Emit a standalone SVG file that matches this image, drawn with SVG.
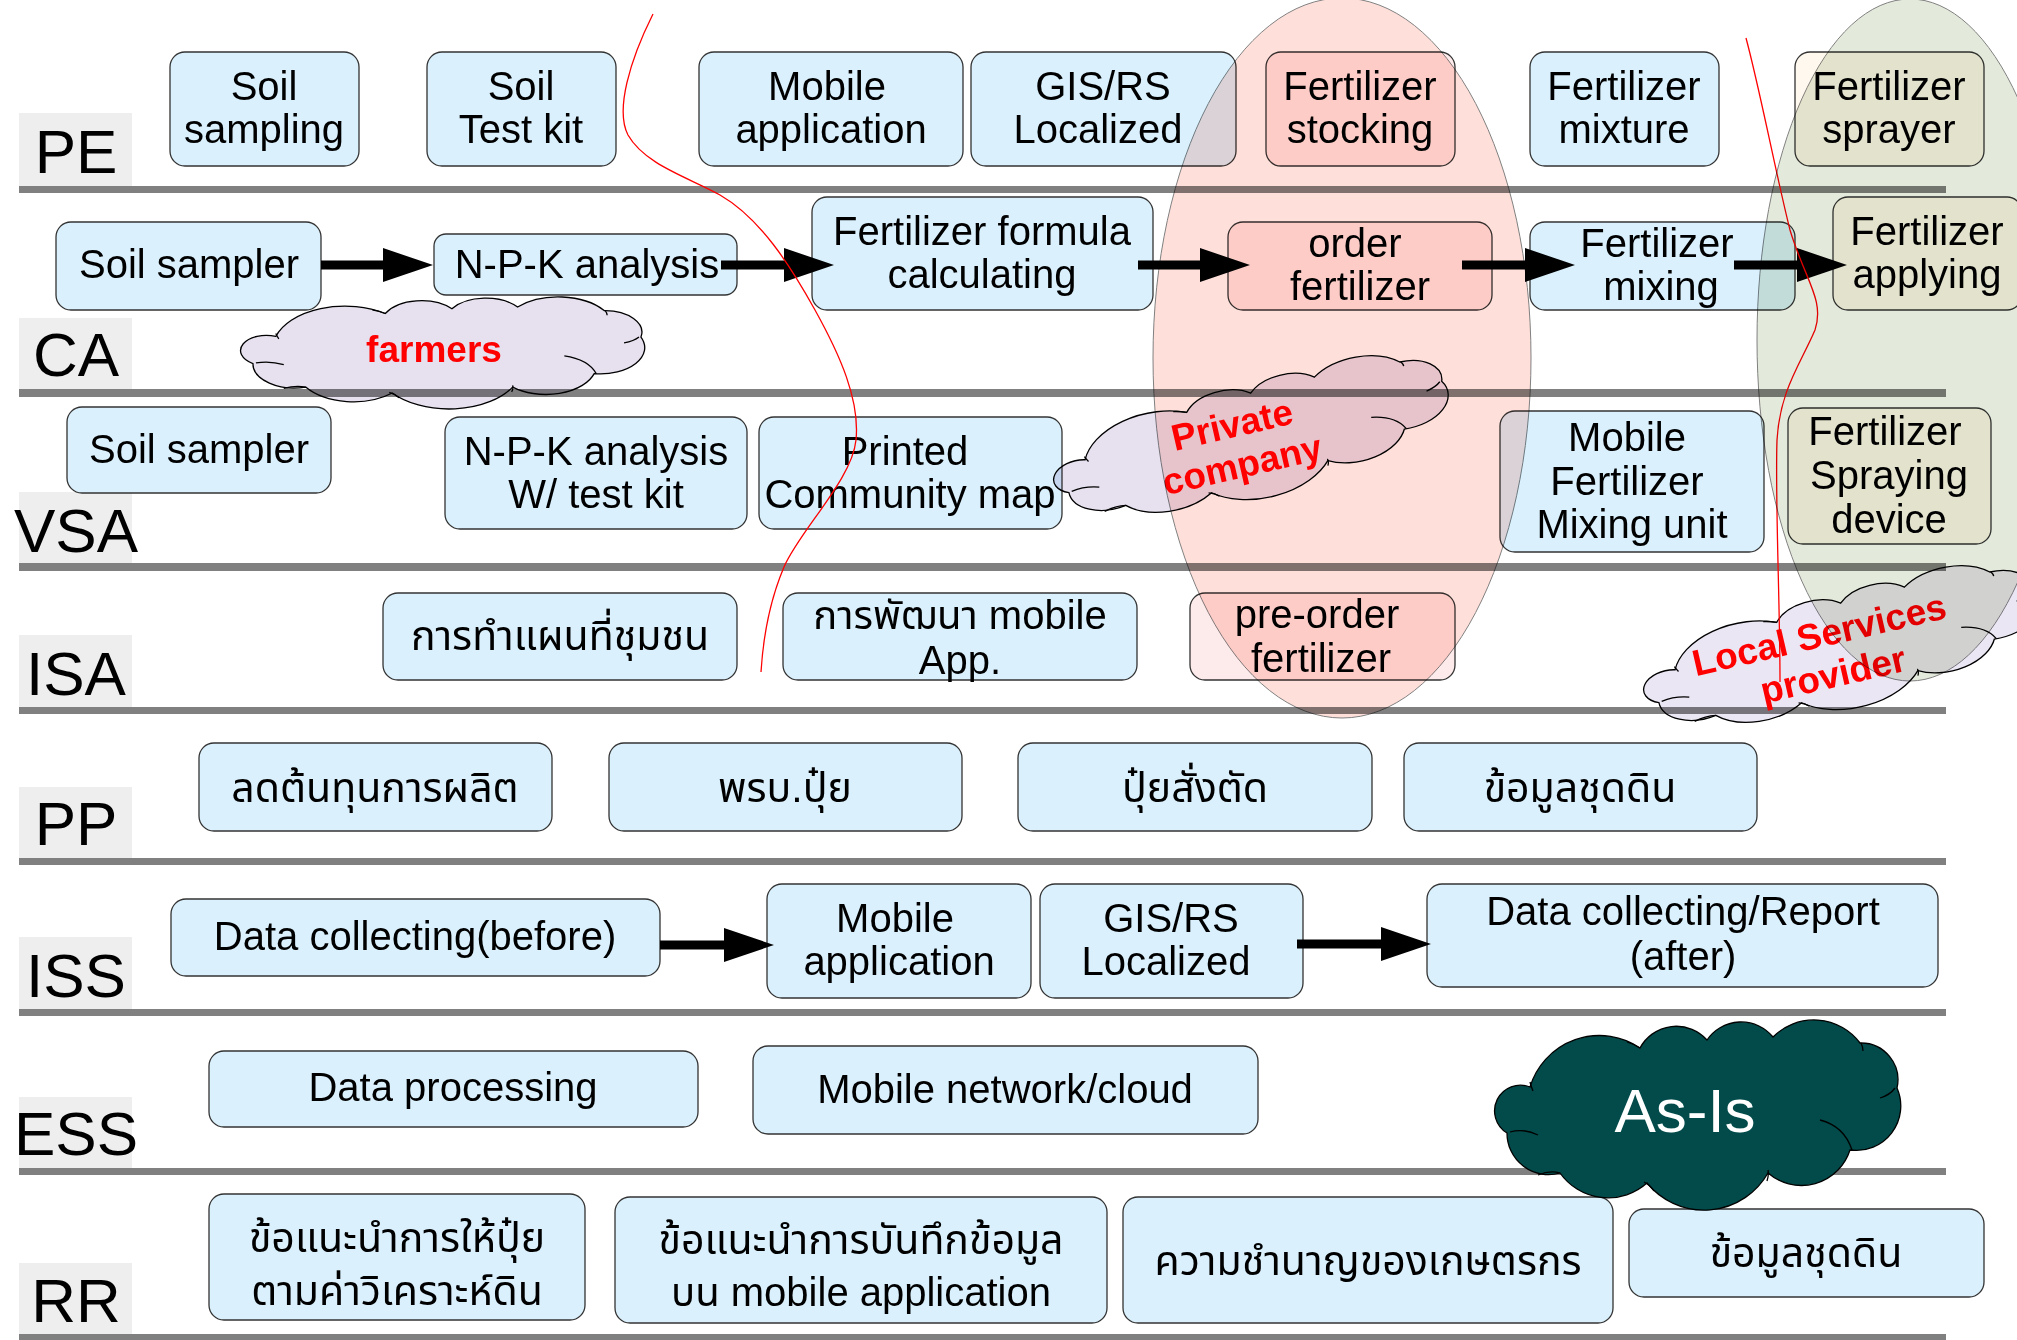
<svg xmlns="http://www.w3.org/2000/svg" xmlns:xlink="http://www.w3.org/1999/xlink" width="2017" height="1340" viewBox="0 0 2017 1340">
<style>
.lane{fill:#eeeeee}
.lanetxt{font-family:"Liberation Sans",Arial,sans-serif;font-size:62px;fill:#000;text-anchor:middle}
.sep{fill:#808080}
.box{fill:#daf1fd;stroke:#333;stroke-width:1.3}
.pink{fill:#fdeaea}
.cream{fill:#fff8ef}
.t{font-family:"Liberation Sans","Noto Sans Thai","DejaVu Sans",sans-serif;font-size:40px;fill:#000;text-anchor:middle}
.th{font-size:41px}
.conn{stroke:#000;stroke-width:9;fill:none;marker-end:url(#ah)}
.ctxt{font-family:"Liberation Sans",Arial,sans-serif;font-weight:bold;font-size:37px;fill:#ff0000;text-anchor:middle}
.oval{mix-blend-mode:multiply;stroke:#808080;stroke-width:1}
.blend{mix-blend-mode:multiply}
.red{fill:none;stroke:#ff0000;stroke-width:1.3}
.cl-out{stroke:#000;stroke-width:1.3;vector-effect:non-scaling-stroke}
.cl-in{fill:none;stroke:#000;stroke-width:1.3;vector-effect:non-scaling-stroke}
</style>
<defs>
<marker id="ah" markerUnits="userSpaceOnUse" markerWidth="50" markerHeight="34" refX="0" refY="17" orient="auto" overflow="visible">
<path d="M0,0 L50,17 L0,34 Z" fill="#000"/>
</marker>
<g id="cloud">
<path class="cl-out" d="M38,67 A72.5,72.5 0 0 1 148,28 A41.2,41.2 0 0 1 215,20 A41.3,41.3 0 0 1 281,17 A57.5,57.5 0 0 1 368,23 A36.9,36.9 0 0 1 405,68 A44.5,44.5 0 0 1 358,130 A51,51 0 0 1 276,153 A73.6,73.6 0 0 1 155,163 A58.7,58.7 0 0 1 68,153 A41.5,41.5 0 0 1 15,113 A25.8,25.8 0 0 1 38,67 Z"/>
<path class="cl-in" d="M18,112 Q32,108 46,115 M46,155 Q58,150 68,153 M152,162 Q158,165 162,171 M276,150 Q277,155 275,161 M328,100 Q352,106 360,130 M388,78 Q398,75 403,68 M369,23 Q371,27 371,31 M135,22 Q142,24 148,28 M38,62 Q39,66 41,71"/>
</g>
</defs>
<rect x="0" y="0" width="2017" height="1340" fill="#ffffff"/>

<g id="lanes">
<rect class="lane" x="19" y="113" width="113" height="73"/>
<rect class="lane" x="19" y="318" width="113" height="71"/>
<rect class="lane" x="19" y="492" width="113" height="71"/>
<rect class="lane" x="19" y="635" width="113" height="72"/>
<rect class="lane" x="19" y="787" width="113" height="71"/>
<rect class="lane" x="19" y="937" width="113" height="72"/>
<rect class="lane" x="19" y="1097" width="113" height="71"/>
<rect class="lane" x="19" y="1263" width="113" height="71"/>
<text class="lanetxt" x="76" y="173">PE</text>
<text class="lanetxt" x="76" y="376">CA</text>
<text class="lanetxt" x="76" y="552">VSA</text>
<text class="lanetxt" x="76" y="695">ISA</text>
<text class="lanetxt" x="76" y="845">PP</text>
<text class="lanetxt" x="76" y="997">ISS</text>
<text class="lanetxt" x="76" y="1155">ESS</text>
<text class="lanetxt" x="76" y="1322">RR</text>
<rect class="sep" x="19" y="186" width="1927" height="7"/>
<rect class="sep" x="19" y="389" width="1927" height="8"/>
<rect class="sep" x="19" y="563" width="1927" height="8"/>
<rect class="sep" x="19" y="707" width="1927" height="7"/>
<rect class="sep" x="19" y="858" width="1927" height="7"/>
<rect class="sep" x="19" y="1009" width="1927" height="7"/>
<rect class="sep" x="19" y="1168" width="1927" height="7"/>
<rect class="sep" x="19" y="1334" width="1927" height="7"/>
</g>

<g id="pe1"><rect class="box" x="170" y="52" width="189" height="114" rx="15"/><text class="t"><tspan x="264" y="100">Soil</tspan><tspan x="264" y="143">sampling</tspan></text></g>
<g id="pe2"><rect class="box" x="427" y="52" width="189" height="114" rx="15"/><text class="t"><tspan x="521" y="100">Soil</tspan><tspan x="521" y="143">Test kit</tspan></text></g>
<g id="pe3"><rect class="box" x="699" y="52" width="264" height="114" rx="15"/><text class="t"><tspan x="827" y="100">Mobile</tspan><tspan x="831" y="143">application</tspan></text></g>
<g id="pe4"><rect class="box" x="971" y="52" width="265" height="114" rx="15"/><text class="t"><tspan x="1103" y="100">GIS/RS</tspan><tspan x="1098" y="143">Localized</tspan></text></g>
<g id="pe5"><rect class="box pink" x="1266" y="52" width="189" height="114" rx="15"/><text class="t"><tspan x="1360" y="100">Fertilizer</tspan><tspan x="1360" y="143">stocking</tspan></text></g>
<g id="pe6"><rect class="box" x="1530" y="52" width="189" height="114" rx="15"/><text class="t"><tspan x="1624" y="100">Fertilizer</tspan><tspan x="1624" y="143">mixture</tspan></text></g>
<g id="pe7"><rect class="box cream" x="1795" y="52" width="189" height="114" rx="15"/><text class="t"><tspan x="1889" y="100">Fertilizer</tspan><tspan x="1889" y="143">sprayer</tspan></text></g>

<g id="ca1"><rect class="box" x="56" y="222" width="265" height="88" rx="15"/><text class="t" x="189" y="278">Soil sampler</text></g>
<g id="ca2"><rect class="box" x="434" y="234" width="303" height="61" rx="12"/><text class="t" x="587" y="278">N-P-K analysis</text></g>
<g id="ca3"><rect class="box" x="812" y="197" width="341" height="113" rx="15"/><text class="t"><tspan x="982" y="245">Fertilizer formula</tspan><tspan x="982" y="288">calculating</tspan></text></g>
<g id="ca4"><rect class="box pink" x="1228" y="222" width="264" height="88" rx="15"/><text class="t"><tspan x="1355" y="257">order</tspan><tspan x="1360" y="300">fertilizer</tspan></text></g>
<g id="ca5"><rect class="box" x="1530" y="222" width="265" height="88" rx="15"/><text class="t"><tspan x="1657" y="257">Fertilizer</tspan><tspan x="1661" y="300">mixing</tspan></text></g>
<g id="ca6"><rect class="box cream" x="1833" y="197" width="189" height="113" rx="15"/><text class="t"><tspan x="1927" y="245">Fertilizer</tspan><tspan x="1927" y="288">applying</tspan></text></g>

<g id="vsa1"><rect class="box" x="67" y="407" width="264" height="86" rx="15"/><text class="t" x="199" y="463">Soil sampler</text></g>
<g id="vsa2"><rect class="box" x="445" y="417" width="302" height="112" rx="15"/><text class="t"><tspan x="596" y="465">N-P-K analysis</tspan><tspan x="596" y="508">W/ test kit</tspan></text></g>
<g id="vsa3"><rect class="box" x="759" y="417" width="303" height="112" rx="15"/><text class="t"><tspan x="905" y="465">Printed</tspan><tspan x="910" y="508">Community map</tspan></text></g>
<g id="vsa4"><rect class="box" x="1500" y="411" width="264" height="141" rx="15"/><text class="t"><tspan x="1627" y="451">Mobile</tspan><tspan x="1627" y="495">Fertilizer</tspan><tspan x="1632" y="538">Mixing unit</tspan></text></g>
<g id="vsa5"><rect class="box cream" x="1788" y="408" width="203" height="136" rx="15"/><text class="t"><tspan x="1885" y="445">Fertilizer</tspan><tspan x="1889" y="489">Spraying</tspan><tspan x="1889" y="533">device</tspan></text></g>

<g id="isa1"><rect class="box" x="383" y="593" width="354" height="87" rx="15"/><text class="t th" x="560" y="650">การทำแผนที่ชุมชน</text></g>
<g id="isa2"><rect class="box" x="783" y="593" width="354" height="87" rx="15"/><text class="t"><tspan x="960" y="629">การพัฒนา mobile</tspan><tspan x="960" y="674">App.</tspan></text></g>
<g id="isa3"><rect class="box pink" x="1190" y="593" width="265" height="87" rx="15"/><text class="t"><tspan x="1317" y="628">pre-order</tspan><tspan x="1321" y="672">fertilizer</tspan></text></g>

<g id="pp1"><rect class="box" x="199" y="743" width="353" height="88" rx="15"/><text class="t th" x="375" y="802">ลดต้นทุนการผลิต</text></g>
<g id="pp2"><rect class="box" x="609" y="743" width="353" height="88" rx="15"/><text class="t th" x="785" y="802">พรบ.ปุ๋ย</text></g>
<g id="pp3"><rect class="box" x="1018" y="743" width="354" height="88" rx="15"/><text class="t th" x="1195" y="802">ปุ๋ยสั่งตัด</text></g>
<g id="pp4"><rect class="box" x="1404" y="743" width="353" height="88" rx="15"/><text class="t th" x="1580" y="802">ข้อมูลชุดดิน</text></g>

<g id="iss1"><rect class="box" x="171" y="899" width="489" height="77" rx="15"/><text class="t" x="415" y="950">Data collecting(before)</text></g>
<g id="iss2"><rect class="box" x="767" y="884" width="264" height="114" rx="15"/><text class="t"><tspan x="895" y="932">Mobile</tspan><tspan x="899" y="975">application</tspan></text></g>
<g id="iss3"><rect class="box" x="1040" y="884" width="263" height="114" rx="15"/><text class="t"><tspan x="1171" y="932">GIS/RS</tspan><tspan x="1166" y="975">Localized</tspan></text></g>
<g id="iss4"><rect class="box" x="1427" y="884" width="511" height="103" rx="15"/><text class="t"><tspan x="1683" y="925">Data collecting/Report</tspan><tspan x="1683" y="970">(after)</tspan></text></g>

<g id="ess1"><rect class="box" x="209" y="1051" width="489" height="76" rx="15"/><text class="t" x="453" y="1101">Data processing</text></g>
<g id="ess2"><rect class="box" x="753" y="1046" width="505" height="88" rx="15"/><text class="t" x="1005" y="1103">Mobile network/cloud</text></g>

<g id="rr1"><rect class="box" x="209" y="1194" width="376" height="126" rx="15"/><text class="t th"><tspan x="397" y="1252">ข้อแนะนำการให้ปุ๋ย</tspan><tspan x="397" y="1305">ตามค่าวิเคราะห์ดิน</tspan></text></g>
<g id="rr2"><rect class="box" x="615" y="1197" width="492" height="126" rx="15"/><text class="t"><tspan class="th" x="861" y="1254">ข้อแนะนำการบันทึกข้อมูล</tspan><tspan x="861" y="1306">บน mobile application</tspan></text></g>
<g id="rr3"><rect class="box" x="1123" y="1197" width="490" height="126" rx="15"/><text class="t th" x="1368" y="1275">ความชำนาญของเกษตรกร</text></g>
<g id="rr4"><rect class="box" x="1629" y="1209" width="355" height="88" rx="15"/><text class="t th" x="1806" y="1267">ข้อมูลชุดดิน</text></g>

<g id="connectors">
<line class="conn" x1="321" y1="265" x2="383" y2="265"/>
<line class="conn" x1="721" y1="265" x2="784" y2="265"/>
<line class="conn" x1="1138" y1="265" x2="1200" y2="265"/>
<line class="conn" x1="1462" y1="265" x2="1525" y2="265"/>
<line class="conn" x1="1734" y1="265" x2="1797" y2="265"/>
<line class="conn" x1="660" y1="945" x2="724" y2="945"/>
<line class="conn" x1="1297" y1="944" x2="1381" y2="944"/>
</g>

<g id="farmers">
<use xlink:href="#cloud" class="blend" fill="#e7e1ef" transform="translate(238,297) scale(0.995,0.589)"/>
<text class="ctxt" x="434" y="362">farmers</text>
</g>
<g id="private-company">
<use xlink:href="#cloud" class="blend" fill="#e7e1ef" transform="translate(1254.5,440) rotate(-12.5) translate(-207.5,-59) scale(0.995,0.621)"/>
<text class="ctxt" x="1235" y="437" transform="rotate(-13 1235 437)">Private</text>
<text class="ctxt" x="1245" y="477" transform="rotate(-13 1245 477)">company</text>
</g>
<g id="local-services">
<use xlink:href="#cloud" class="blend" fill="#ebe6f3" transform="translate(1844.5,650) rotate(-12.5) translate(-207.5,-59) scale(0.995,0.621)"/>
<text class="ctxt" x="1822" y="647" transform="rotate(-13 1822 647)">Local Services</text>
<text class="ctxt" x="1836" y="687" transform="rotate(-13 1836 687)">provider</text>
</g>

<g id="red-curves">
<path class="red" d="M653,14 C630,60 615,110 628,135 C645,165 690,178 720,195 C760,218 790,265 815,310 C840,355 860,400 856,440 C852,480 800,530 784,567 C770,600 763,640 761,672"/>
<path class="red" d="M1746,38 C1760,90 1775,170 1790,230 C1805,280 1825,300 1815,330 C1800,365 1780,390 1777,440 C1775,500 1780,600 1780,682"/>
</g>

<g id="as-is">
<use xlink:href="#cloud" fill="#024b4a" transform="translate(1492,1020)"/>
<text x="1685" y="1132" font-family="'Liberation Sans',Arial,sans-serif" font-size="62" fill="#ffffff" text-anchor="middle">As-Is</text>
</g>

<g id="ovals">
<ellipse class="oval" cx="1342" cy="358" rx="189" ry="360" fill="#ffdfd9"/>
<ellipse class="oval" cx="1910" cy="340" rx="153" ry="341" fill="#e3e9db"/>
</g>
</svg>
